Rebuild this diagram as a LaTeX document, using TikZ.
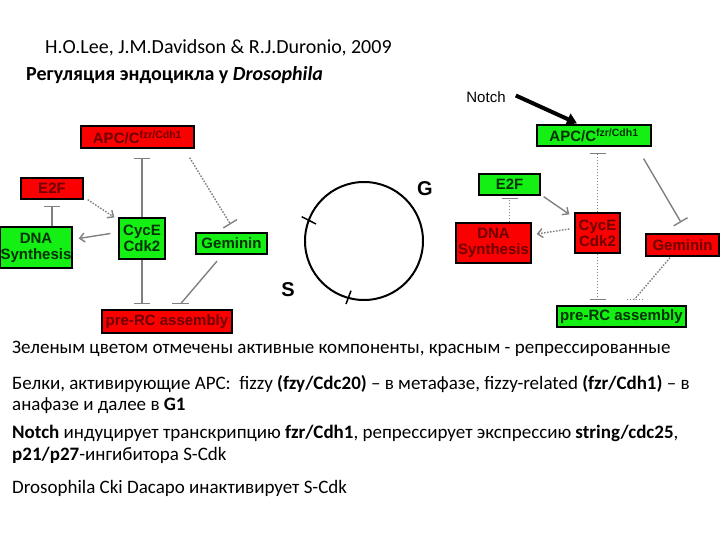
\documentclass[tikz,border=0pt]{standalone}
\usepackage{fontspec}
\setmainfont{Carlito}
\newfontfamily\boxfont{Liberation Sans}
\usetikzlibrary{arrows.meta,calc}
\definecolor{rfill}{RGB}{250,0,0}
\definecolor{gfill}{RGB}{20,240,20}
\definecolor{rtext}{RGB}{110,0,0}
\definecolor{gtext}{RGB}{0,50,0}
\definecolor{conn}{RGB}{128,128,128}
\tikzset{
  box/.style={draw=black, line width=1.3pt, inner sep=0.5pt, align=center,
    font=\boxfont\bfseries\fontsize{15}{16}\selectfont},
  redbox/.style={box, fill=rfill, text=rtext},
  greenbox/.style={box, fill=gfill, text=gtext},
  act/.style={draw=conn, line width=1.4pt, -{Straight Barb[length=5pt,width=9pt]}},
  inh/.style={draw=conn, line width=1.4pt, -{Bar[width=16pt]}},
  barline/.style={draw=conn, line width=1.4pt},
  dots/.style={dash pattern=on 1.6pt off 1.4pt},
  txt/.style={anchor=base west, inner sep=0pt, font=\fontsize{19}{19}\selectfont},
  ttl/.style={anchor=base west, inner sep=0pt, font=\fontsize{20}{20}\selectfont},
}
\begin{document}
\begin{tikzpicture}[x=1pt,y=-1pt]
\useasboundingbox (0,0) rectangle (720,540);
% titles
\node[ttl] (t1) at (45,54) {H.O.Lee, J.M.Davidson \& R.J.Duronio, 2009};
\node[ttl] (t2) at (26,81) {\textbf{Регуляция эндоцикла у \textit{Drosophila}}};

% left diagram
\node[redbox, minimum width=113pt, minimum height=22pt] (apcL) at (137.5,137) {APC/C\textsuperscript{fzr/Cdh1}};
\node[redbox, minimum width=62pt, minimum height=21pt] (e2fL) at (52,188.5) {E2F};
\node[greenbox, minimum width=72pt, minimum height=41pt] (dnaL) at (36,247.5) {DNA\\Synthesis};
\node[greenbox, minimum width=46pt, minimum height=41pt] (cycL) at (142,238.5) {CycE\\Cdk2};
\node[greenbox, minimum width=71pt, minimum height=21pt] (gemL) at (231.5,243.5) {Geminin};
\node[redbox, minimum width=130pt, minimum height=23pt] (preL) at (167,321.5) {pre-RC assembly};

\draw[inh, shorten >=9pt] (cycL.north) -- (cycL.north |- apcL.south);
\draw[act, dots] ($(e2fL.south east)+(4,0)$) -- ($(cycL.north west)+(-4,0)$);
\draw[inh, shorten >=6pt] (e2fL.south |- dnaL.north) -- (e2fL.south);
\draw[act] ($(cycL.west)+(-8,-5)$) -- ($(dnaL.east)+(6,-9)$);
\draw[inh, dots] ($(apcL.south east)+(-5,9)$) -- ($(gemL.north)+(-1,-8)$);
\draw[inh, shorten >=5pt] (cycL.south) -- (cycL.south |- preL.north);
\coordinate (gpL) at ($(preL.north)+(14,-6)$);
\draw[barline] ($(gemL.south)+(-14.5,6.5)$) -- (gpL);
\draw[barline] ($(gpL)+(-9,0)$) -- ($(gpL)+(8,0)$);

% cycle
\draw[line width=2pt] (364,241) circle[radius=59pt];
\draw[line width=1.5pt] (301.7,216.7) -- (316,224);
\draw[line width=1.5pt] (346,304) -- (351,290.7);
\node[font=\boxfont\bfseries\fontsize{20}{20}\selectfont] (g) at (425,189) {G};
\node[font=\boxfont\bfseries\fontsize{20}{20}\selectfont] (s) at (288,290) {S};

% right diagram
\node[font=\boxfont\fontsize{15}{15}\selectfont, inner sep=0pt] (notch) at (486,97.5) {Notch};
\node[greenbox, minimum width=114pt, minimum height=21pt] (apcR) at (594,135.5) {APC/C\textsuperscript{fzr/Cdh1}};
\node[greenbox, minimum width=61pt, minimum height=21pt] (e2fR) at (509.5,184.5) {E2F};
\node[redbox, minimum width=75pt, minimum height=40pt] (dnaR) at (493.5,243) {DNA\\Synthesis};
\node[redbox, minimum width=45pt, minimum height=40pt] (cycR) at (597.5,233) {CycE\\Cdk2};
\node[redbox, minimum width=73pt, minimum height=22pt] (gemR) at (682.5,245) {Geminin};
\node[greenbox, minimum width=129pt, minimum height=21pt] (preR) at (621.5,316.5) {pre-RC assembly};

\draw[line width=4pt, -{Triangle[length=10pt,width=12pt]}] ($(notch.east)+(10,-2)$) -- ($(apcR.north)+(-17,-1)$);
\draw[inh, dots, shorten >=6pt] (cycR.north) -- (cycR.north |- apcR.south);
\draw[act] ($(e2fR.south east)+(3,1)$) -- ($(cycR.north west)+(-5,2)$);
\draw[inh, dots, shorten >=2pt] (e2fR.south |- dnaR.north) -- (e2fR.south);
\draw[act, dots] ($(cycR.west)+(-5,-4)$) -- ($(dnaR.east)+(5,-9)$);
\draw[inh] ($(apcR.south east)+(-8,12)$) -- ($(gemR.north)+(-1.5,-11)$);
\draw[inh, dots, shorten >=5pt] (cycR.south) -- (cycR.south |- preR.north);
\coordinate (gpR) at ($(preR.north)+(13,-6)$);
\draw[barline, dots] ($(gemR.south)+(-12.5,1)$) -- (gpR);
\draw[barline, dots] ($(gpR)+(-8,0)$) -- ($(gpR)+(9,0)$);

% body text
\node[txt] (l1) at (12,353) {Зеленым цветом отмечены активные компоненты, красным - репрессированные};
\node[txt] (l2) at (12,389) {Белки, активирующие APC:\ \ fizzy \textbf{(fzy/Cdc20)} – в метафазе, fizzy-related \textbf{(fzr/Cdh1)} – в};
\node[txt] (l3) at (12,410) {анафазе и далее в \textbf{G1}};
\node[txt] (l4) at (12,438) {\textbf{Notch} индуцирует транскрипцию \textbf{fzr/Cdh1}, репрессирует экспрессию \textbf{string/cdc25},};
\node[txt] (l5) at (12,460) {\textbf{p21/p27}-ингибитора S-Cdk};
\node[txt] (l6) at (12,493) {Drosophila Cki Dacapo инактивирует S-Cdk};
\end{tikzpicture}
\end{document}
